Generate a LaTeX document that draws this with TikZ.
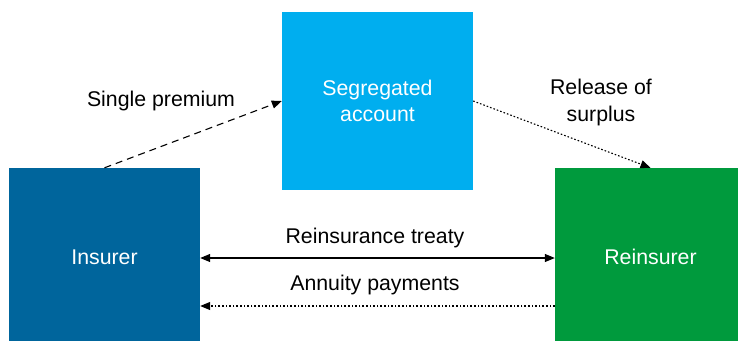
\documentclass[tikz,border=0pt]{standalone}
\usepackage{fontspec}
\setmainfont{Liberation Sans}
\usetikzlibrary{arrows.meta}
\definecolor{insblue}{HTML}{00659C}
\definecolor{segcyan}{HTML}{00AEEF}
\definecolor{regreen}{HTML}{009A3D}
\begin{document}
\begin{tikzpicture}[x=1pt,y=-1pt,
  box/.style={rectangle, minimum width=191pt, minimum height=178pt, inner sep=0pt, text=white, align=center, font=\fontsize{21.3}{26}\selectfont},
  lbl/.style={align=center, font=\fontsize{21.3}{27}\selectfont, text=black},
  conn/.style={line width=1.1pt, -{Triangle[length=10pt,width=8pt]}},
  dsh/.style={dash pattern=on 7pt off 5pt},
  dtt/.style={dash pattern=on 1.6pt off 2pt}]
\useasboundingbox (0,0) rectangle (738,340);
\node[box, fill=insblue] (ins) at (104.5,257) {Insurer};
\node[box, fill=segcyan] (seg) at (377.5,101) {Segregated\\account};
\node[box, fill=regreen] (rei) at (650.5,257) {Reinsurer};
\draw[conn, dsh] (ins.north) -- (seg.west);
\draw[conn, dtt] (seg.east) -- (rei.north);
\draw[conn, {Triangle[length=10pt,width=8pt]}-{Triangle[length=10pt,width=8pt]}] ([yshift=-1pt]ins.east) -- ([yshift=-1pt]rei.west);
\draw[conn, dtt] ([yshift=-49pt]rei.west) -- ([yshift=-49pt]ins.east);
\node[lbl] (lsp) at (161,101) {Single premium};
\node[lbl] (lrs) at (601,102) {Release of\\surplus};
\node[lbl] (lrt) at (375,238) {Reinsurance treaty};
\node[lbl] (lap) at (375,285) {Annuity payments};
\end{tikzpicture}
\end{document}
